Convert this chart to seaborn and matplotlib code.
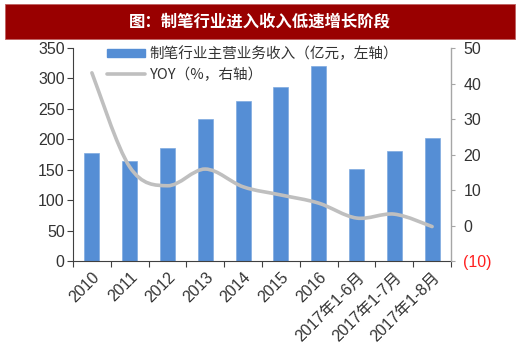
import matplotlib
matplotlib.use("Agg")
import matplotlib.pyplot as plt
import seaborn as sns
import pandas as pd
import numpy as np
from matplotlib.path import Path
from matplotlib.patches import PathPatch, Rectangle, Patch
from matplotlib.lines import Line2D

categories = ["2010", "2011", "2012", "2013", "2014", "2015", "2016",
              "2017年1-6月", "2017年1-7月", "2017年1-8月"]
revenue = [177, 164, 186, 234, 263, 286, 320, 151, 181, 202]
yoy = [43, 16.5, 11.2, 15.9, 10.9, 8.6, 6.3, 2.1, 3.2, -0.3]
left_ticks = [0, 50, 100, 150, 200, 250, 300, 350]
right_ticks = [-10, 0, 10, 20, 30, 40, 50]
right_labels = ["(10)", "0", "10", "20", "30", "40", "50"]
title = "图：制笔行业进入收入低速增长阶段"
bar_label = "制笔行业主营业务收入（亿元，左轴）"
line_label = "YOY（%，右轴）"

sns.set_theme(style="white")
plt.rcParams['font.family'] = ['Liberation Sans', 'Noto Sans CJK SC', 'DejaVu Sans']

df = pd.DataFrame({"cat": categories, "rev": revenue, "yoy": yoy})

fig = plt.figure(figsize=(5.2, 3.58), dpi=100)
W, H = 520, 358
ax = fig.add_axes([73 / W, (H - 261) / H, (451 - 73) / W, (261 - 48) / H])

bar_color = "#558ED5"
sns.barplot(data=df, x="cat", y="rev", ax=ax, color=bar_color, width=0.4,
            saturation=1, edgecolor="#7FAAE0", linewidth=0.5)
ax.set_xlim(-0.5, len(categories) - 0.5)
ax.set_ylim(0, 350)
ax.set_yticks(left_ticks)
ax.set_xlabel("")
ax.set_ylabel("")
txt = "#333333"
ax.tick_params(axis="y", labelsize=11.5, colors=txt, length=4, width=0.8,
               direction="out", left=True, pad=2, color="#404040")
ax.set_xticks(range(len(categories)))
ax.set_xticklabels(categories, rotation=45, ha="right", rotation_mode="anchor",
                   fontsize=11.5, color=txt)
ax.tick_params(axis="x", which="major", length=0, pad=6)
ax.set_xticks(np.arange(-0.5, len(categories), 1), minor=True)
ax.tick_params(axis="x", which="minor", length=4, width=0.8, color="#404040",
               direction="out", bottom=True)
for s in ["top", "right"]:
    ax.spines[s].set_visible(False)
ax.spines["left"].set_color("#404040")
ax.spines["bottom"].set_color("#404040")
ax.spines["left"].set_linewidth(0.8)
ax.spines["bottom"].set_linewidth(0.8)

ax2 = ax.twinx()
ax2.set_ylim(-10, 50)
ax2.set_yticks(right_ticks)
ax2.set_yticklabels(right_labels, fontsize=11.5, color=txt)
ax2.get_yticklabels()[0].set_color("#FF2020")
ax2.tick_params(axis="y", length=3, width=0.8, color="#A6A6A6", direction="out",
                right=True, pad=6)
for s in ["top", "left", "bottom"]:
    ax2.spines[s].set_visible(False)
ax2.spines["right"].set_color("#A6A6A6")
ax2.spines["right"].set_linewidth(1.0)

# smoothed line (Catmull-Rom -> Bezier), through the data points
xs = np.arange(len(yoy), dtype=float)
ys = np.array(yoy, dtype=float)
verts = [(xs[0], ys[0])]
codes = [Path.MOVETO]
n = len(xs)
for i in range(n - 1):
    p0 = np.array([xs[max(i - 1, 0)], ys[max(i - 1, 0)]])
    p1 = np.array([xs[i], ys[i]])
    p2 = np.array([xs[i + 1], ys[i + 1]])
    p3 = np.array([xs[min(i + 2, n - 1)], ys[min(i + 2, n - 1)]])
    c1 = p1 + (p2 - p0) / 6.0
    c2 = p2 - (p3 - p1) / 6.0
    verts += [tuple(c1), tuple(c2), tuple(p2)]
    codes += [Path.CURVE4] * 3
line_color = "#BFBFBF"
ax2.add_patch(PathPatch(Path(verts, codes), facecolor="none",
                        edgecolor=line_color, lw=2.6, capstyle="round",
                        joinstyle="round"))

handles = [Patch(facecolor=bar_color, edgecolor=bar_color),
           Line2D([0], [0], color=line_color, lw=2.6)]
leg = ax.legend(handles, [bar_label, line_label], loc="upper left",
                bbox_to_anchor=(0.075, 1.035), frameon=False, fontsize=10.5,
                handlelength=2.6, handleheight=0.5, handletextpad=0.3,
                labelspacing=0.45, borderaxespad=0)
for t in leg.get_texts():
    t.set_color(txt)
    t.set_family(['Noto Sans CJK SC', 'DejaVu Sans'])

# title banner
fig.patches.append(Rectangle((5 / W, (H - 39) / H), 510 / W, 35 / H,
                             transform=fig.transFigure, facecolor="#990000",
                             edgecolor="#C06060", lw=0.6, zorder=0))
fig.text(0.5, (H - 21.5) / H, title, ha="center", va="center", color="white",
         fontsize=11.8, fontweight="bold", family=['Noto Sans CJK SC', 'DejaVu Sans'])

fig.savefig("out.png", dpi=100)
